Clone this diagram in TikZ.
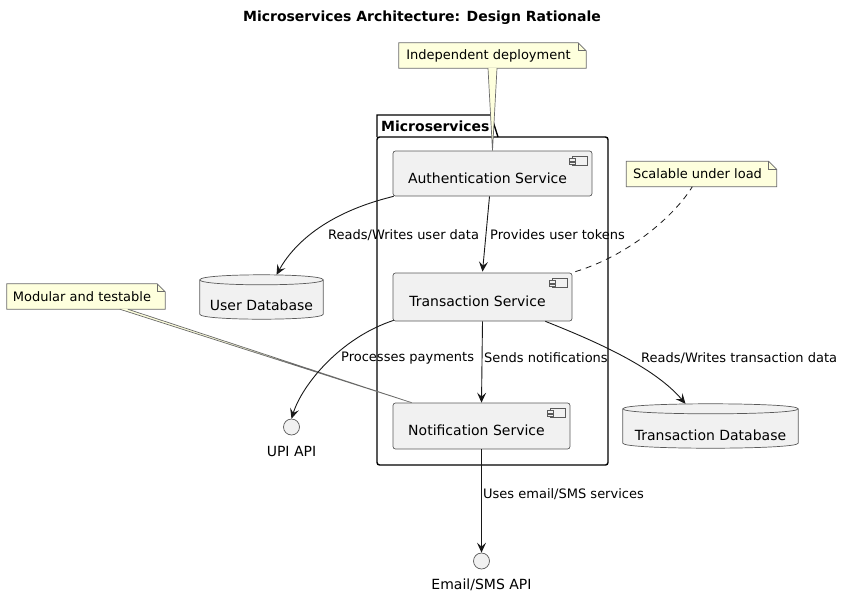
\documentclass[tikz,border=0pt]{standalone}
\usepackage{fontspec}
\setmainfont{DejaVu Sans}
\usetikzlibrary{calc,arrows.meta}
\definecolor{compfill}{HTML}{F1F1F1}
\definecolor{compline}{HTML}{5A5A5A}
\definecolor{notefill}{HTML}{FEFFDD}
\definecolor{noteline}{HTML}{6A6A6A}
\definecolor{edgecol}{HTML}{181818}
\tikzset{
  comp/.style={draw=compline, fill=compfill, line width=0.7pt, rounded corners=2.5pt, inner sep=0pt},
  ctext/.style={inner sep=0pt, font=\fontsize{14}{16}\selectfont},
  spot/.style={draw=none, inner sep=0pt},
  lbl/.style={inner sep=0pt, anchor=west, font=\fontsize{13}{15}\selectfont, text=black},
  ntext/.style={inner sep=0pt, font=\fontsize{13}{15}\selectfont},
  edge/.style={draw=edgecol, line width=0.9pt, -{Stealth[length=10pt,width=9pt,inset=4pt]}},
  shapeline/.style={draw=compline, fill=compfill, line width=0.7pt},
  noteshape/.style={draw=noteline, fill=notefill, line width=0.7pt},
}
\newcommand{\compicon}[1]{%
  \draw[draw=compline, fill=compfill, line width=0.6pt] ($(#1.north east)+(-20,6)$) rectangle ($(#1.north east)+(-5,15)$);
  \draw[draw=compline, fill=compfill, line width=0.6pt] ($(#1.north east)+(-23,8)$) rectangle ($(#1.north east)+(-17,10.5)$);
  \draw[draw=compline, fill=compfill, line width=0.6pt] ($(#1.north east)+(-23,11.5)$) rectangle ($(#1.north east)+(-17,14)$);
}
\newcommand{\cylshape}[1]{%
  \path[shapeline] ($(#1.north west)+(0,5)$) -- ($(#1.south west)+(0,-5)$)
    .. controls ($(#1.south west)+(0,1.67)$) and ($(#1.south east)+(0,1.67)$) .. ($(#1.south east)+(0,-5)$)
    -- ($(#1.north east)+(0,5)$)
    .. controls ($(#1.north east)+(0,-1.67)$) and ($(#1.north west)+(0,-1.67)$) .. cycle;
  \draw[draw=compline, line width=0.7pt] ($(#1.north west)+(0,5)$)
    .. controls ($(#1.north west)+(0,11.67)$) and ($(#1.north east)+(0,11.67)$) .. ($(#1.north east)+(0,5)$);
}
\newcommand{\noteshp}[1]{%
  \path[noteshape] (#1.north west) -- ($(#1.north east)+(-8,0)$) -- ($(#1.north east)+(0,8)$) -- (#1.south east) -- (#1.south west) -- cycle;
  \draw[draw=noteline, line width=0.7pt] ($(#1.north east)+(-8,0)$) -- ($(#1.north east)+(-8,8)$) -- ($(#1.north east)+(0,8)$);
}
\begin{document}
\begin{tikzpicture}[x=1pt,y=-1pt]
\useasboundingbox (0,0) rectangle (844,598);

% title
\node[font=\fontsize{14}{16}\selectfont\bfseries] (title) at (422,18) {Microservices Architecture: Design Rationale};

% package
\draw[line width=1.4pt, rounded corners=2.5pt] (377,137) -- (377,465) -- (608,465) -- (608,137) -- cycle;
\draw[line width=1.4pt] (377,137) -- (377,115) -- (491,115) -- (498,137);
\node[anchor=west, inner sep=0pt, font=\fontsize{14}{16}\selectfont\bfseries] (pkg) at (381,126) {Microservices};

% components
\node[comp, minimum width=199pt, minimum height=45pt] (auth) at (492.5,173.5) {};
\compicon{auth}
\node[ctext] (authl) at ($(auth.center)+(-5,4.5)$) {Authentication Service};
\node[comp, minimum width=179pt, minimum height=48pt] (trans) at (482.5,297) {};
\compicon{trans}
\node[ctext] (transl) at ($(trans.center)+(-5,4.5)$) {Transaction Service};
\node[comp, minimum width=177pt, minimum height=46pt] (notif) at (481.5,426) {};
\compicon{notif}
\node[ctext] (notifl) at ($(notif.center)+(-5,4.5)$) {Notification Service};

% databases
\node[spot, minimum width=123pt, minimum height=44pt] (udb) at (261.5,297) {};
\cylshape{udb}
\node[ctext] (udbl) at (261.5,305) {User Database};
\node[spot, minimum width=175pt, minimum height=44pt] (tdb) at (710.5,426) {};
\cylshape{tdb}
\node[ctext] (tdbl) at (710.5,435) {Transaction Database};

% interfaces
\node[circle, draw=compline, fill=compfill, line width=0.7pt, minimum size=16pt, inner sep=0pt] (upi) at (291.5,427) {};
\node[ctext] (upil) at (291.5,451) {UPI API};
\node[circle, draw=compline, fill=compfill, line width=0.7pt, minimum size=16pt, inner sep=0pt] (email) at (481.5,561) {};
\node[ctext] (emaill) at (481.5,585) {Email/SMS API};

% notes
\node[spot, minimum width=187pt, minimum height=25pt] (n1) at (492.5,55.5) {};
\noteshp{n1}
\node[ntext] (n1t) at (488.5,55.5) {Independent deployment};
\node[spot, minimum width=150pt, minimum height=25pt] (n2) at (701.5,174) {};
\noteshp{n2}
\node[ntext] (n2t) at (697.5,174) {Scalable under load};
\node[spot, minimum width=158pt, minimum height=25pt] (n3) at (86,296.5) {};
\noteshp{n3}
\node[ntext] (n3t) at (82,296.5) {Modular and testable};

% note connectors
\path[fill=notefill] ($(n1.south)+(-4.5,0)$) -- (auth.north) -- ($(n1.south)+(4.5,0)$) -- cycle;
\draw[draw=noteline, line width=0.7pt] ($(n1.south)+(-4.5,0)$) -- (auth.north) -- ($(n1.south)+(4.5,0)$);
\path[fill=notefill] ($(n3.south west)+(113,0)$) -- ($(notif.north west)+(19,0)$) -- ($(n3.south west)+(121,0)$) -- cycle;
\draw[draw=noteline, line width=0.7pt] ($(n3.south west)+(113,0)$) -- ($(notif.north west)+(19,0)$) -- ($(n3.south west)+(121,0)$);
\draw[draw=edgecol, line width=0.8pt, dash pattern=on 6pt off 5pt] ($(trans.north east)+(3,-1)$)
  .. controls (630,255) and (675,215) .. ($(n2.south west)+(66,0)$);

% edges
\draw[edge] ($(auth.south west)+(1,0)$) .. controls (325,213) and (293,245) .. ($(udb.north)+(15,0)$);
\node[lbl] (e1) at (328,235) {Reads/Writes user data};
\draw[edge] ($(auth.south)+(-3,0)$) -- ($(trans.north)+(0,-1)$);
\node[lbl] (e2) at (490,235) {Provides user tokens};
\draw[edge] ($(trans.south west)+(1,-1)$) .. controls (340,338) and (302,385) .. (upi.north);
\node[lbl] (e3) at (341,358) {Processes payments};
\draw[edge] (trans.south) -- (notif.north);
\node[lbl] (e4) at (484,358) {Sends notifications};
\draw[edge] ($(trans.south east)+(-27,0)$) .. controls (600,343) and (655,368) .. ($(tdb.north)+(-25,0)$);
\node[lbl] (e5) at (641,358) {Reads/Writes transaction data};
\draw[edge] (notif.south) -- (email.north);
\node[lbl] (e6) at (483,494) {Uses email/SMS services};
\end{tikzpicture}
\end{document}
